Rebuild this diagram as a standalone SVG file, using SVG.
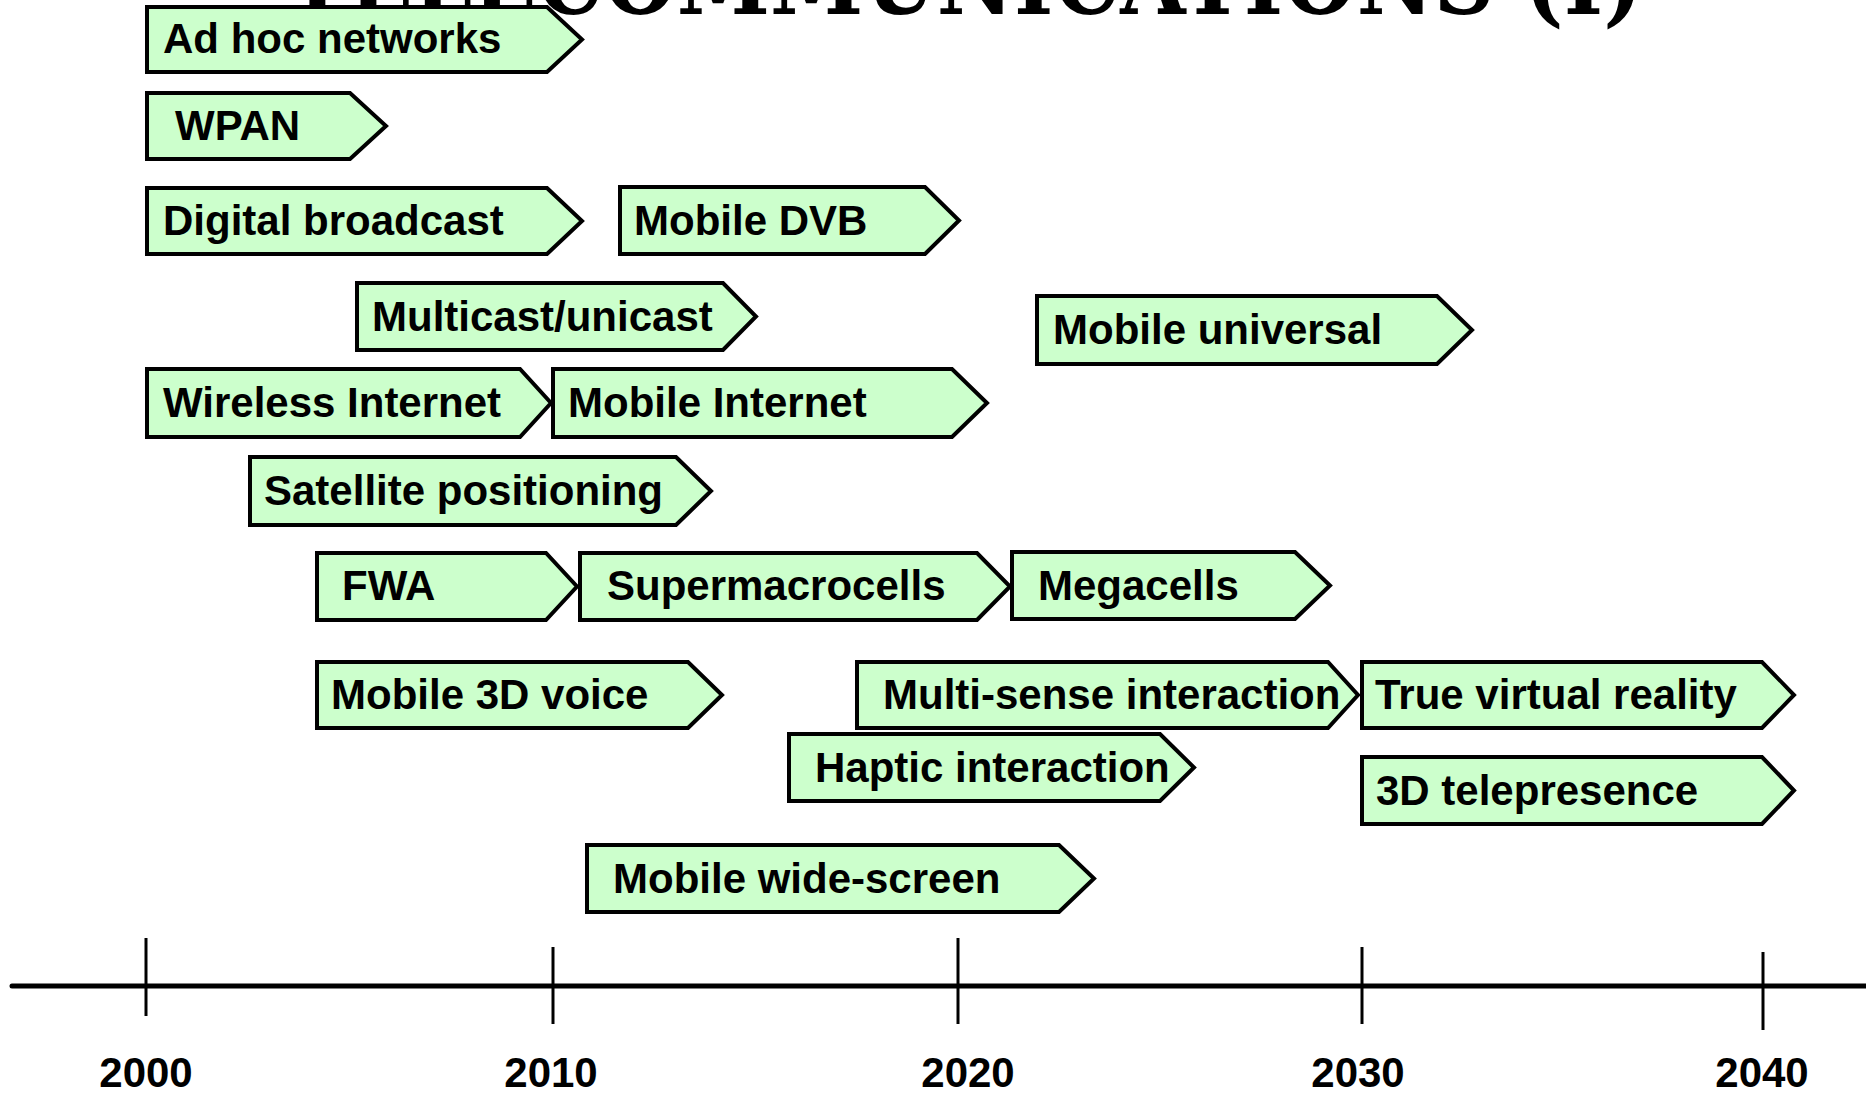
<svg xmlns="http://www.w3.org/2000/svg" width="1866" height="1096" viewBox="0 0 1866 1096">
  <style>
    .box { fill: #CCFFCC; stroke: #000; stroke-width: 4; stroke-linejoin: miter; }
    .lbl { font-family: "Liberation Sans", Arial, sans-serif; font-weight: bold; font-size: 42px; fill: #000; }
    .yr { font-family: "Liberation Sans", Arial, sans-serif; font-weight: bold; font-size: 42px; fill: #000; text-anchor: middle; }
    .title { font-family: "DejaVu Serif", "Liberation Serif", serif; font-weight: bold; font-size: 100px; fill: #000; }
    .axis { stroke: #000; stroke-width: 5; stroke-linecap: round; }
    .tick { stroke: #000; stroke-width: 3; }
  </style>

  <rect width="1866" height="1096" fill="#fff"/>

  <!-- page title, mostly above the top edge -->
  <text class="title" x="286" y="14" textLength="1357" lengthAdjust="spacingAndGlyphs">TELECOMMUNICATIONS (I)</text>

  <!-- timeline axis -->
  <g id="timeline">
    <line class="axis" x1="12" y1="986" x2="1866" y2="986"/>
    <line class="tick" x1="146" y1="938" x2="146" y2="1016"/>
    <line class="tick" x1="553" y1="947" x2="553" y2="1024"/>
    <line class="tick" x1="958" y1="938" x2="958" y2="1024"/>
    <line class="tick" x1="1362" y1="947" x2="1362" y2="1024"/>
    <line class="tick" x1="1763" y1="952" x2="1763" y2="1030"/>
    <text class="yr" x="146" y="1087">2000</text>
    <text class="yr" x="551" y="1087">2010</text>
    <text class="yr" x="968" y="1087">2020</text>
    <text class="yr" x="1358" y="1087">2030</text>
    <text class="yr" x="1762" y="1087">2040</text>
  </g>

  <!-- technology arrows -->
  <g id="adhoc">
    <polygon class="box" points="147,7 547,7 582,39.5 547,72 147,72"/>
    <text class="lbl" x="163" y="53">Ad hoc networks</text>
  </g>
  <g id="wpan">
    <polygon class="box" points="147,93 350,93 386,126 350,159 147,159"/>
    <text class="lbl" x="175" y="140">WPAN</text>
  </g>
  <g id="digital-broadcast">
    <polygon class="box" points="147,188 547,188 582,221 547,254 147,254"/>
    <text class="lbl" x="163" y="235">Digital broadcast</text>
  </g>
  <g id="mobile-dvb">
    <polygon class="box" points="620,187 925,187 959,220.5 925,254 620,254"/>
    <text class="lbl" x="634" y="235">Mobile DVB</text>
  </g>
  <g id="multicast">
    <polygon class="box" points="357,283 723,283 756,316.5 723,350 357,350"/>
    <text class="lbl" x="372" y="331">Multicast/unicast</text>
  </g>
  <g id="mobile-universal">
    <polygon class="box" points="1037,296 1437,296 1472,330 1437,364 1037,364"/>
    <text class="lbl" x="1053" y="344">Mobile universal</text>
  </g>
  <g id="wireless-internet">
    <polygon class="box" points="147,369 520,369 551,403 520,437 147,437"/>
    <text class="lbl" x="163" y="417">Wireless Internet</text>
  </g>
  <g id="mobile-internet">
    <polygon class="box" points="553,369 952,369 987,403 952,437 553,437"/>
    <text class="lbl" x="568" y="417">Mobile Internet</text>
  </g>
  <g id="satellite">
    <polygon class="box" points="250,457 676,457 711,491 676,525 250,525"/>
    <text class="lbl" x="264" y="505">Satellite positioning</text>
  </g>
  <g id="fwa">
    <polygon class="box" points="317,553 546,553 577,586.5 546,620 317,620"/>
    <text class="lbl" x="342" y="600">FWA</text>
  </g>
  <g id="supermacrocells">
    <polygon class="box" points="580,553 977,553 1010,586.5 977,620 580,620"/>
    <text class="lbl" x="607" y="600">Supermacrocells</text>
  </g>
  <g id="megacells">
    <polygon class="box" points="1012,552 1295,552 1330,585.5 1295,619 1012,619"/>
    <text class="lbl" x="1038" y="600">Megacells</text>
  </g>
  <g id="mobile-3d-voice">
    <polygon class="box" points="317,662 688,662 722,695 688,728 317,728"/>
    <text class="lbl" x="331" y="709">Mobile 3D voice</text>
  </g>
  <g id="multi-sense">
    <polygon class="box" points="857,662 1328,662 1358,695 1328,728 857,728"/>
    <text class="lbl" x="883" y="709">Multi-sense interaction</text>
  </g>
  <g id="true-vr">
    <polygon class="box" points="1362,662 1762,662 1794,695 1762,728 1362,728"/>
    <text class="lbl" x="1375" y="709">True virtual reality</text>
  </g>
  <g id="haptic">
    <polygon class="box" points="789,734 1160,734 1194,767.5 1160,801 789,801"/>
    <text class="lbl" x="815" y="782">Haptic interaction</text>
  </g>
  <g id="telepresence">
    <polygon class="box" points="1362,757 1762,757 1794,790.5 1762,824 1362,824"/>
    <text class="lbl" x="1376" y="805">3D telepresence</text>
  </g>
  <g id="wide-screen">
    <polygon class="box" points="587,845 1059,845 1094,878.5 1059,912 587,912"/>
    <text class="lbl" x="613" y="893">Mobile wide-screen</text>
  </g>
</svg>
